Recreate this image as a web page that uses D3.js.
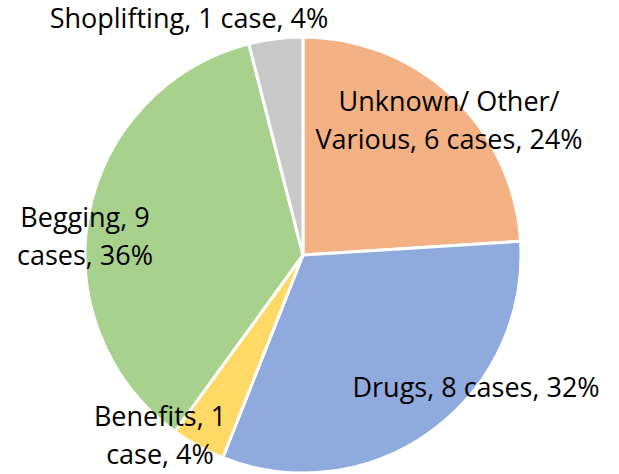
<!DOCTYPE html>
<html><head><meta charset="utf-8">
<script src="https://cdn.jsdelivr.net/npm/d3@7"></script>
<style>body{margin:0;background:#fff;}svg{display:block;}</style>
</head><body>
<svg id="c" width="619" height="474"></svg>
<script>
const categories = ["Unknown/ Other/ Various", "Drugs", "Benefits", "Begging", "Shoplifting"];
const cases = [6, 8, 1, 9, 1];
const percents = [24, 32, 4, 36, 4];
const labelLines = [
  ["Unknown/ Other/", "Various, 6 cases, 24%"],
  ["Drugs, 8 cases, 32%"],
  ["Benefits, 1", "case, 4%"],
  ["Begging, 9", "cases, 36%"],
  ["Shoplifting, 1 case, 4%"]
];
const colors = ["#F4B183", "#8FAADC", "#FFD966", "#A9D18E", "#C9C9C9"];
// label block centres, in units of the radius relative to the pie centre
const labelPos = [[0.67, -0.615], [0.794, 0.61], [-0.656, 0.83], [-1.0, -0.083], [-0.523, -1.083]];

const svg = d3.select("#c");
const cx = 303, cy = 255, R = 218;
const g = svg.append("g").attr("transform", `translate(${cx},${cy})`);
const pie = d3.pie().sort(null).value(d => d)(cases);
const arc = d3.arc().innerRadius(0).outerRadius(R);
g.selectAll("path").data(pie).join("path")
  .attr("d", arc)
  .attr("fill", (d, i) => colors[i])
  .attr("stroke", "#fff").attr("stroke-width", 3).attr("stroke-linejoin", "round");

const fs = 27, lh = 38;
labelLines.forEach((lines, i) => {
  const x = labelPos[i][0] * R, y = labelPos[i][1] * R;
  const t = g.append("text").attr("text-anchor", "middle")
    .attr("font-family", "'Open Sans', Lato, sans-serif").attr("font-size", fs).attr("fill", "#000");
  lines.forEach((s, j) => {
    t.append("tspan").attr("x", x)
      .attr("y", y + (j - (lines.length - 1) / 2) * lh)
      .attr("dy", "0.35em").text(s);
  });
});
</script>
</body></html>
